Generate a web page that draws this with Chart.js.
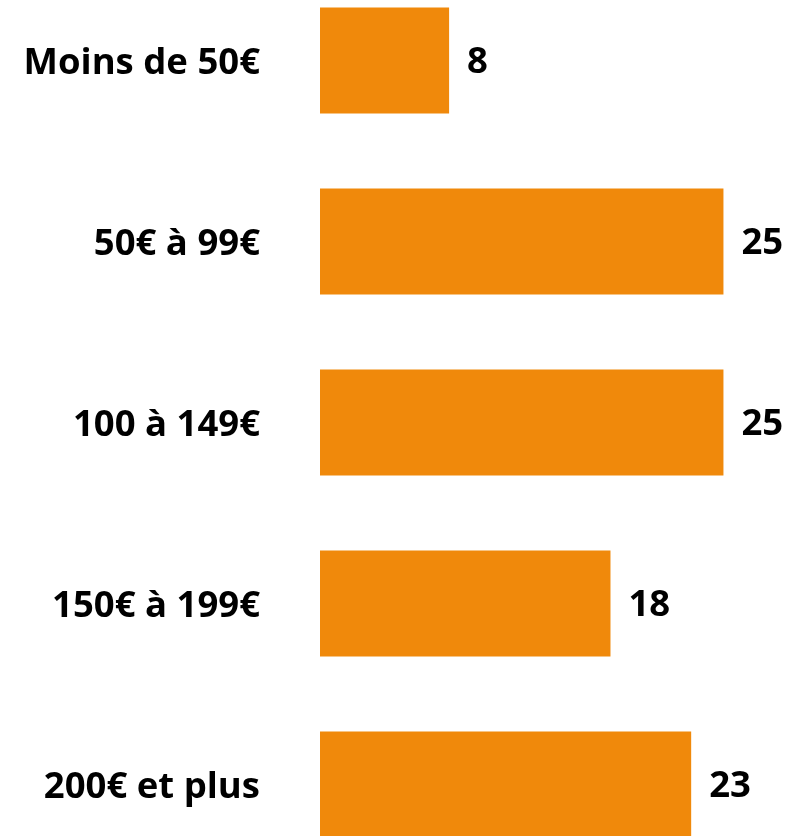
<!DOCTYPE html>
<html>
<head>
<meta charset="utf-8">
<script src="https://cdn.jsdelivr.net/npm/chart.js@4/dist/chart.umd.min.js"></script>
<style>
  html, body { margin: 0; padding: 0; background: #fff; overflow: hidden; width: 788px; height: 836px; }
  #chart { display: block; margin-top: -30px; }
</style>
</head>
<body>
<canvas id="chart" width="788" height="905"></canvas>
<script>
const categories = ['Moins de 50€', '50€ à 99€', '100 à 149€', '150€ à 199€', '200€ et plus']
const values = [8, 25, 25, 18, 23]

const barColor = '#F0890B'
const labelFont = { family: "'Open Sans', sans-serif", size: 36.5, weight: 'bold' }

// draws the value at the end of every bar
const valueLabels = {
  id: 'valueLabels',
  afterDatasetsDraw(chart) {
    const ctx = chart.ctx
    ctx.save()
    ctx.font = 'bold ' + labelFont.size + 'px ' + labelFont.family
    ctx.fillStyle = '#000'
    ctx.textAlign = 'left'
    ctx.textBaseline = 'middle'
    chart.getDatasetMeta(0).data.forEach((bar, i) => {
      ctx.fillText(String(values[i]), bar.x + 18, bar.y + 2)
    })
    ctx.restore()
  }
}

new Chart(document.getElementById('chart').getContext('2d'), {
  type: 'bar',
  data: {
    labels: categories,
    datasets: [{
      data: values,
      backgroundColor: barColor,
      borderWidth: 0,
      barPercentage: 1,
      categoryPercentage: 0.586
    }]
  },
  options: {
    indexAxis: 'y',
    responsive: false,
    animation: false,
    layout: { padding: 0 },
    plugins: {
      legend: { display: false },
      tooltip: { enabled: false }
    },
    scales: {
      x: {
        display: false,
        min: 0,
        max: 29
      },
      y: {
        grid: { display: false, drawTicks: false },
        border: { display: false },
        ticks: {
          color: '#000',
          font: labelFont,
          padding: 60,
          labelOffset: 3
        },
        afterFit(scale) {
          scale.width = 320
          scale.paddingTop = 0
          scale.paddingBottom = 0
        }
      }
    }
  },
  plugins: [valueLabels]
})
</script>
</body>
</html>
